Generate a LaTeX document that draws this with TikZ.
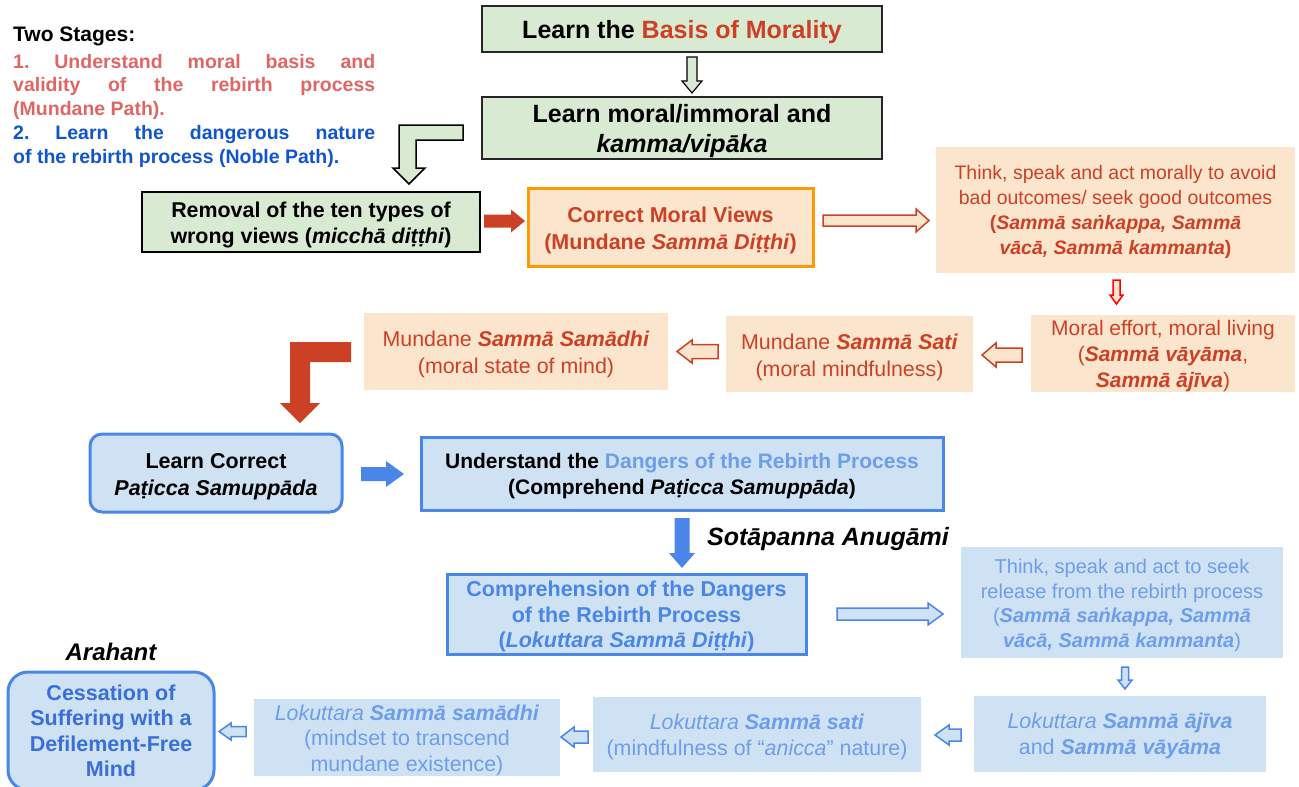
\documentclass[tikz,border=0pt]{standalone}
\usepackage{fontspec}
\setmainfont{Liberation Sans}
\usetikzlibrary{calc}
\definecolor{cgreen}{HTML}{D9EAD3}
\definecolor{cpeach}{HTML}{FCE5CD}
\definecolor{cred}{HTML}{CC4125}
\definecolor{clred}{HTML}{E06666}
\definecolor{cdblue}{HTML}{1155CC}
\definecolor{cblue}{HTML}{4A86E8}
\definecolor{cmblue}{HTML}{3A6FD8}
\definecolor{clblue}{HTML}{CFE2F3}
\definecolor{ctblue}{HTML}{6D9EEB}
\definecolor{corange}{HTML}{FF9900}
\definecolor{cgray}{HTML}{262626}
\newcommand\fs[2]{\fontsize{#1}{#2}\selectfont}
\newcommand\T{\rule{0pt}{\dimexpr0.73em+6pt\relax}}
% horizontal block arrow: style, from, to, shaft half, head half, head length
\newcommand\harr[6][]{%
  \path[#1] let \p1=(#2), \p2=(#3), \n1={ifthenelse(\x2>\x1,1,-1)} in
  (\x1,\y1-#4) -- (\x2-\n1*#6,\y1-#4) -- (\x2-\n1*#6,\y1-#5) -- (\x2,\y1)
  -- (\x2-\n1*#6,\y1+#5) -- (\x2-\n1*#6,\y1+#4) -- (\x1,\y1+#4) -- cycle;}
% vertical block arrow
\newcommand\varr[6][]{%
  \path[#1] let \p1=(#2), \p2=(#3), \n1={ifthenelse(\y2>\y1,1,-1)} in
  (\x1-#4,\y1) -- (\x1-#4,\y2-\n1*#6) -- (\x1-#5,\y2-\n1*#6) -- (\x1,\y2)
  -- (\x1+#5,\y2-\n1*#6) -- (\x1+#4,\y2-\n1*#6) -- (\x1+#4,\y1) -- cycle;}
\tikzset{
  every node/.style={inner sep=0pt, align=center},
  gbox/.style={draw=cgray, line width=2pt, fill=cgreen},
  pbox/.style={fill=cpeach, text=cred},
  bbox/.style={draw=cblue, line width=3pt, fill=clblue},
  lbox/.style={fill=clblue, text=ctblue},
  stg/.style={anchor=west, font=\bfseries\fs{19.5}{24}},
  redsolid/.style={fill=cred},
  redout/.style={fill=cpeach, draw=cred, line width=1.5pt},
  blusolid/.style={fill=cblue},
  bluout/.style={fill=clblue, draw=cblue, line width=1.5pt},
}
\begin{document}
\frenchspacing
\begin{tikzpicture}[x=1pt,y=-1pt]
\useasboundingbox (0,0) rectangle (1299,787);
% two stages
\node[anchor=west, font=\bfseries\fs{21}{24}] (ts) at (13,36.5) {Two Stages:};
\node[stg, text=clred] (s1) at (13,61.5) {\makebox[362pt]{1.\hfill Understand\hfill moral\hfill basis\hfill and}};
\node[stg, text=clred] (s2) at (13,86) {\makebox[362pt]{validity\hfill of\hfill the\hfill rebirth\hfill process}};
\node[stg, text=clred] (s3) at (13,110) {(Mundane Path).};
\node[stg, text=cdblue] (s4) at (13,134.5) {\makebox[362pt]{2.\hfill Learn\hfill the\hfill dangerous\hfill nature}};
\node[stg, text=cdblue] (s5) at (13,158.5) {of the rebirth process (Noble Path).};
% top boxes
\node[gbox, minimum width=400pt, minimum height=46pt, font=\bfseries\fs{25}{30}] (b1) at (682,29)
  {\T Learn the \textcolor{cred}{Basis of Morality}};
\node[gbox, minimum width=400pt, minimum height=62pt, font=\bfseries\fs{25}{30}] (b2) at (682,128)
  {\T Learn moral/immoral and\\\textit{kamma/vipāka}};
\node[gbox, draw=black, minimum width=338pt, minimum height=60pt, font=\bfseries\fs{21.4}{26}] (rm) at (311,222)
  {\T Removal of the ten types of\\wrong views (\textit{micchā diṭṭhi})};
\node[pbox, draw=corange, line width=3pt, minimum width=285pt, minimum height=78pt, font=\bfseries\fs{21.5}{27}] (cm) at (670.5,227)
  {\T Correct Moral Views\\(Mundane \textit{Sammā Diṭṭhi})};
\node[pbox, minimum width=359pt, minimum height=126pt, font=\fs{19.5}{25}] (tr) at (1115.5,210)
  {\rule{0pt}{\dimexpr0.73em+4pt\relax}Think, speak and act morally to avoid\\bad outcomes/ seek good outcomes\\
   \textbf{(\textit{Sammā saṅkappa, Sammā}}\\\textbf{\textit{vācā, Sammā kammanta})}};
\node[pbox, minimum width=264pt, minimum height=77pt, font=\fs{21}{26}] (me) at (1163,353.5)
  {\T Moral effort, moral living\\(\textbf{\textit{Sammā vāyāma}},\\\textbf{\textit{Sammā ājīva}})};
\node[pbox, minimum width=247pt, minimum height=76pt, font=\fs{21.4}{27}] (ms) at (849.5,354)
  {\T Mundane \textbf{\textit{Sammā Sati}}\\(moral mindfulness)};
\node[pbox, minimum width=304pt, minimum height=77pt, font=\fs{21.4}{27}] (md) at (516,351.5)
  {\T Mundane \textbf{\textit{Sammā Samādhi}}\\(moral state of mind)};
% blue boxes
\node[bbox, rounded corners=12pt, minimum width=252pt, minimum height=78pt, font=\bfseries\fs{21.5}{27}] (lc) at (216,473)
  {\rule{0pt}{\dimexpr0.73em+7pt\relax}Learn Correct\\\textit{Paṭicca Samuppāda}};
\node[bbox, minimum width=522pt, minimum height=73pt, font=\bfseries\fs{21}{26}] (ud) at (682,473.5)
  {\T Understand the \textcolor{ctblue}{Dangers of the Rebirth Process}\\(Comprehend \textit{Paṭicca Samuppāda})};
\node[font=\bfseries\itshape\fs{25}{30}, anchor=west] (so) at (707,539.5) {Sotāpanna Anugāmi};
\node[bbox, text=cblue, minimum width=359pt, minimum height=80pt, font=\bfseries\fs{21.5}{25.5}] (cp) at (626.5,614)
  {\rule{0pt}{\dimexpr0.73em+5pt\relax}Comprehension of the Dangers\\of the Rebirth Process\\(\textit{Lokuttara Sammā Diṭṭhi})};
\node[lbox, minimum width=322pt, minimum height=111pt, font=\fs{20}{24.5}] (tb) at (1122,602.5)
  {\T Think, speak and act to seek\\release from the rebirth process\\
   (\textbf{\textit{Sammā saṅkappa, Sammā}}\\\textbf{\textit{vācā, Sammā kammanta}})};
\node[lbox, minimum width=292pt, minimum height=76pt, font=\fs{21.4}{25.5}] (la) at (1120,734)
  {\rule{0pt}{\dimexpr0.73em+4pt\relax}\textit{Lokuttara} \textbf{\textit{Sammā ājīva}}\\and \textbf{\textit{Sammā vāyāma}}};
\node[lbox, minimum width=328pt, minimum height=75pt, font=\fs{21.4}{26}] (ls) at (757,734.5)
  {\rule{0pt}{\dimexpr0.73em+4pt\relax}\textit{Lokuttara} \textbf{\textit{Sammā sati}}\\(mindfulness of “\textit{anicca}” nature)};
\node[lbox, minimum width=306pt, minimum height=77pt, font=\fs{21.4}{25.5}] (lm) at (407,737.5)
  {\rule{0pt}{\dimexpr0.73em+5pt\relax}\textit{Lokuttara} \textbf{\textit{Sammā samādhi}}\\(mindset to transcend\\mundane existence)};
\node[bbox, text=cmblue, rounded corners=20pt, minimum width=206pt, minimum height=118pt, font=\bfseries\fs{21.5}{25.5}] (ce) at (111,731)
  {Cessation of\\Suffering with a\\Defilement-Free\\Mind};
\node[font=\bfseries\itshape\fs{24}{28}] (ar) at (111,652) {Arahant};
% arrow end points
\coordinate (a1s) at (692,57);   \coordinate (a1e) at (692,93);
\coordinate (a2s) at (484,221);  \coordinate (a2e) at (525,221);
\coordinate (a3s) at (823,220.5);\coordinate (a3e) at (929,220.5);
\coordinate (a4s) at (1116.5,280);\coordinate (a4e) at (1116.5,304);
\coordinate (a5s) at (1022,355); \coordinate (a5e) at (982,355);
\coordinate (a6s) at (718,351.5);\coordinate (a6e) at (677,351.5);
\coordinate (a7s) at (361,474);  \coordinate (a7e) at (404,474);
\coordinate (a8s) at (682,518);  \coordinate (a8e) at (682,568);
\coordinate (a9s) at (837,614);  \coordinate (a9e) at (943,614);
\coordinate (a10s) at (1125,667);\coordinate (a10e) at (1125,689);
\coordinate (a11s) at (961,735); \coordinate (a11e) at (935,735);
\coordinate (a12s) at (588,737); \coordinate (a12e) at (561,737);
\coordinate (a13s) at (246,731.5);\coordinate (a13e) at (219,731.5);
% arrows
\varr[fill=cgreen, draw=black, line width=1.2pt]{a1s}{a1e}{5pt}{10pt}{12pt}
\harr[redsolid]{a2s}{a2e}{6.5pt}{11.5pt}{14pt}
\harr[redout]{a3s}{a3e}{5.5pt}{11.5pt}{13pt}
\varr[fill=cpeach, draw=red, line width=1.5pt]{a4s}{a4e}{3.5pt}{6.5pt}{9pt}
\harr[redout]{a5s}{a5e}{7pt}{12pt}{14pt}
\harr[redout]{a6s}{a6e}{7pt}{11.5pt}{15pt}
\harr[blusolid]{a7s}{a7e}{7pt}{13pt}{18pt}
\varr[blusolid]{a8s}{a8e}{7.5pt}{13pt}{15pt}
\harr[bluout]{a9s}{a9e}{6pt}{11pt}{15pt}
\varr[bluout]{a10s}{a10e}{3.5pt}{7pt}{9pt}
\harr[bluout]{a11s}{a11e}{6pt}{10pt}{14pt}
\harr[bluout]{a12s}{a12e}{6pt}{10pt}{13pt}
\harr[bluout]{a13s}{a13e}{5pt}{8.5pt}{12pt}
% bent arrows
\draw[fill=cgreen, draw=black, line width=1.5pt] (463,125) -- (399,125) -- (399,168) -- (393,168) -- (409,184)
  -- (425,168) -- (416,168) -- (416,140) -- (463,140) -- cycle;
\fill[cred] (351,342) -- (290,342) -- (290,403) -- (280,403) -- (300,423) -- (320,403) -- (310,403)
  -- (310,362) -- (351,362) -- cycle;
\end{tikzpicture}
\end{document}
